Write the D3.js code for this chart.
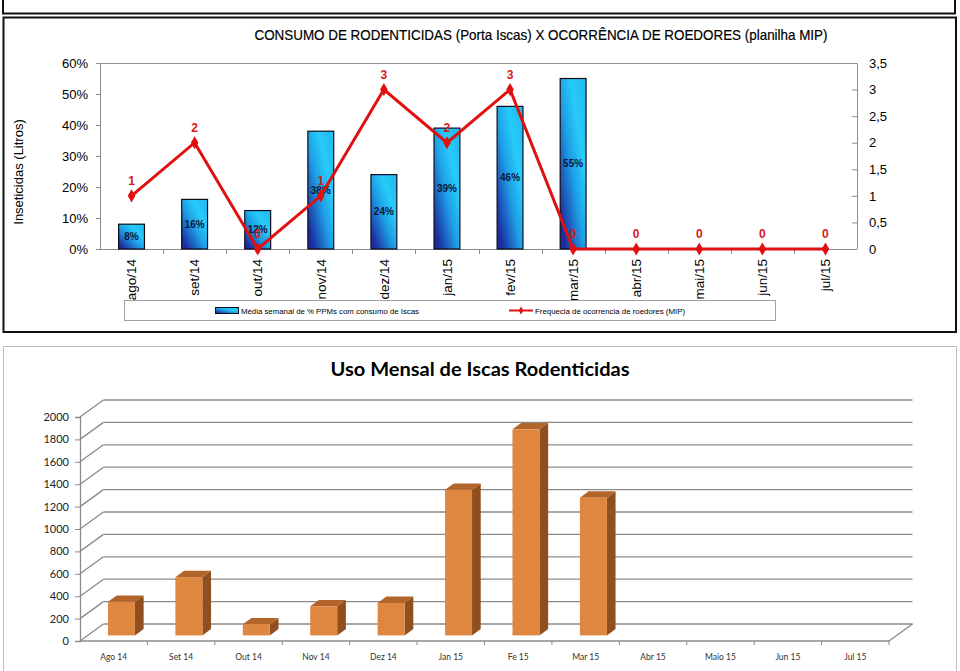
<!DOCTYPE html>
<html><head><meta charset="utf-8">
<script src="https://cdn.jsdelivr.net/npm/d3@7"></script>
<style>html,body{margin:0;padding:0;background:#fff;}svg{display:block;}</style>
</head><body>
<svg id="c" width="960" height="671"></svg>
<script>
// ---------- DATA ----------
const months1 = ["ago/14","set/14","out/14","nov/14","dez/14","jan/15","fev/15","mar/15","abr/15","mai/15","jun/15","jul/15"];
const pctPPM = [0.08,0.16,0.124,0.38,0.24,0.39,0.46,0.55,null,null,null,null];
const freqMIP = [1,2,0,1,3,2,3,0,0,0,0,0];
const leftTicks = [0,0.1,0.2,0.3,0.4,0.5,0.6];
const rightTicks = [0,0.5,1,1.5,2,2.5,3,3.5];
const title1 = "CONSUMO DE RODENTICIDAS (Porta Iscas) X OCORRÊNCIA DE ROEDORES (planilha MIP)";
const yTitle1 = "Inseticidas (Litros)";
const legend1 = ["Média semanal de % PPMs com consumo de Iscas","Frequecia de ocorrencia de roedores (MIP)"];

const months2 = ["Ago 14","Set 14","Out 14","Nov 14","Dez 14","Jan 15","Fe 15","Mar 15","Abr 15","Maio 15","Jun 15","Jul 15"];
const iscas = [300,520,100,260,290,1300,1840,1230,0,0,0,0];
const ticks2 = [0,200,400,600,800,1000,1200,1400,1600,1800,2000];
const title2 = "Uso Mensal de Iscas Rodenticidas";

// ---------- SETUP ----------
const svg = d3.select("#c");
svg.append("rect").attr("width",960).attr("height",671).attr("fill","#fff");
const defs = svg.append("defs");
const grad = defs.append("linearGradient").attr("id","barGrad")
  .attr("x1",0).attr("y1",0.8).attr("x2",0.8).attr("y2",0);
grad.append("stop").attr("offset","0%").attr("stop-color","#1c2c9e");
grad.append("stop").attr("offset","45%").attr("stop-color","#1e9fe6");
grad.append("stop").attr("offset","75%").attr("stop-color","#27cbf9");
grad.append("stop").attr("offset","100%").attr("stop-color","#22bdf2");

// panel frames
svg.append("rect").attr("x",3).attr("y",-6).attr("width",952).attr("height",19.5)
  .attr("fill","none").attr("stroke","#111").attr("stroke-width",2);
svg.append("rect").attr("x",3.5).attr("y",17.5).attr("width",952.5).attr("height",314.5)
  .attr("fill","#fff").attr("stroke","#111").attr("stroke-width",2);
svg.append("rect").attr("x",3.5).attr("y",346.5).attr("width",953).attr("height",330)
  .attr("fill","#fff").attr("stroke","#bcbcbc").attr("stroke-width",1);

// ---------- TOP CHART ----------
const L = 100, R = 857, T = 63, B = 249;
const x1 = d3.scaleBand().domain(months1).range([L,R]).paddingInner(0).paddingOuter(0);
const yL = d3.scaleLinear().domain([0,0.6]).range([B,T]);
const yR = d3.scaleLinear().domain([0,3.5]).range([B,T]);
const g1 = svg.append("g");

svg.append("text").attr("x",541).attr("y",40).attr("text-anchor","middle")
  .attr("font-family","'Liberation Sans Narrow','Arial Narrow','Liberation Sans',Arial,sans-serif")
  .attr("font-size",14.5).attr("fill","#000").attr("stroke","#000").attr("stroke-width",0.2)
  .attr("textLength",573).attr("lengthAdjust","spacingAndGlyphs").text(title1);

// plot frame top line
g1.append("line").attr("x1",L).attr("x2",R).attr("y1",T+0.5).attr("y2",T+0.5).attr("stroke","#8c8c8c");

// axes
const fmtPct = d3.format(".0%");
const fmtComma = d => String(d).replace(".",",");
const axL = g1.append("g").attr("transform",`translate(${L},0)`)
  .call(d3.axisLeft(yL).tickValues(leftTicks).tickFormat(fmtPct).tickSize(4).tickPadding(8));
const axR = g1.append("g").attr("transform",`translate(${R},0)`)
  .call(d3.axisRight(yR).tickValues(rightTicks).tickFormat(fmtComma).tickSizeInner(-5).tickSizeOuter(0).tickPadding(12));
[axL,axR].forEach(a=>{
  a.select(".domain").attr("stroke","#8c8c8c");
  a.selectAll(".tick line").attr("stroke","#8c8c8c");
  a.selectAll("text").attr("font-family","'Liberation Sans',Arial,sans-serif").attr("font-size",13).attr("fill","#000");
});
// x axis
g1.append("line").attr("x1",L).attr("x2",R).attr("y1",B+0.5).attr("y2",B+0.5).attr("stroke","#8c8c8c");
g1.selectAll(".xt").data(months1.slice(1)).enter().append("line")
  .attr("x1",d=>Math.round(x1(d))+0.5).attr("x2",d=>Math.round(x1(d))+0.5)
  .attr("y1",B).attr("y2",B+5).attr("stroke","#8c8c8c");

g1.selectAll(".xl").data(months1).enter().append("text")
  .attr("transform",d=>`translate(${x1(d)+x1.bandwidth()/2},259) rotate(-90)`)
  .attr("text-anchor","end").attr("dy","0.35em")
  .attr("font-family","'Liberation Sans',Arial,sans-serif").attr("font-size",13.5).attr("fill","#000")
  .text(d=>d);

// bars
const bw = x1.bandwidth()*0.41;
const barData = months1.map((m,i)=>({m,v:pctPPM[i]})).filter(d=>d.v!=null);
g1.selectAll(".bar").data(barData).enter().append("rect")
  .attr("x",d=>x1(d.m)+(x1.bandwidth()-bw)/2).attr("width",bw)
  .attr("y",d=>yL(d.v)).attr("height",d=>B-yL(d.v))
  .attr("fill","url(#barGrad)").attr("stroke","#0d0d1a").attr("stroke-width",1.2);
g1.selectAll(".bl").data(barData).enter().append("text")
  .attr("x",d=>x1(d.m)+x1.bandwidth()/2).attr("y",d=>(yL(d.v)+B)/2).attr("dy","0.35em")
  .attr("text-anchor","middle").attr("font-family","'Liberation Sans',Arial,sans-serif")
  .attr("font-weight","bold").attr("font-size",10).attr("fill","#0b1538")
  .text(d=>fmtPct(d.v));

// line
const cx = m => x1(m)+x1.bandwidth()/2;
const lineData = months1.map((m,i)=>({m,v:freqMIP[i]}));
g1.append("path").datum(lineData)
  .attr("d",d3.line().x(d=>cx(d.m)).y(d=>yR(d.v)))
  .attr("fill","none").attr("stroke","#e01010").attr("stroke-width",3).attr("stroke-linejoin","miter");
g1.selectAll(".mk").data(lineData).enter().append("path")
  .attr("transform",d=>`translate(${cx(d.m)},${yR(d.v)})`)
  .attr("d",d3.symbol().type(d3.symbolDiamond).size(50)).attr("fill","#e01010");
g1.selectAll(".ll").data(lineData).enter().append("text")
  .attr("x",d=>cx(d.m)).attr("y",d=>yR(d.v)-11)
  .attr("text-anchor","middle").attr("font-family","'Liberation Sans',Arial,sans-serif")
  .attr("font-weight","bold").attr("font-size",12).attr("fill","#d81818")
  .text(d=>d.v);

// y title
svg.append("text").attr("transform","translate(18,172) rotate(-90)").attr("text-anchor","middle")
  .attr("dy","0.35em").attr("font-family","'Liberation Sans',Arial,sans-serif").attr("font-size",13)
  .attr("fill","#000").text(yTitle1);

// legend
const lg = svg.append("g");
lg.append("rect").attr("x",124.5).attr("y",300.5).attr("width",651).attr("height",20)
  .attr("fill","#fff").attr("stroke","#a0a0a0");
lg.append("rect").attr("x",215.5).attr("y",307.5).attr("width",23).attr("height",6)
  .attr("fill","url(#barGrad)").attr("stroke","#0d0d1a");
lg.append("text").attr("x",241).attr("y",311).attr("dy","0.35em")
  .attr("font-family","'Liberation Sans',Arial,sans-serif").attr("font-size",8).attr("fill","#000")
  .attr("textLength",178).attr("lengthAdjust","spacingAndGlyphs").text(legend1[0]);
lg.append("line").attr("x1",509).attr("x2",533).attr("y1",310.5).attr("y2",310.5)
  .attr("stroke","#e01010").attr("stroke-width",2);
lg.append("path").attr("transform","translate(521,310.5)")
  .attr("d",d3.symbol().type(d3.symbolDiamond).size(18)).attr("fill","#e01010");
lg.append("text").attr("x",535).attr("y",311).attr("dy","0.35em")
  .attr("font-family","'Liberation Sans',Arial,sans-serif").attr("font-size",8).attr("fill","#000")
  .attr("textLength",150).attr("lengthAdjust","spacingAndGlyphs").text(legend1[1]);

// ---------- BOTTOM 3D CHART ----------
const g2 = svg.append("g");
const FL = 80, FR = 889, FB = 641, FT = 417;
const DX = 23.5, DY = -17;
const x2 = d3.scaleBand().domain(months2).range([FL,FR]);
const y2 = d3.scaleLinear().domain([0,2000]).range([FB,FT]);
const gridC = "#8a8a8a";

svg.append("text").attr("x",480).attr("y",376).attr("text-anchor","middle")
  .attr("font-family","Lato,'Open Sans',sans-serif").attr("font-weight","bold").attr("font-size",19)
  .attr("fill","#000").attr("textLength",299).attr("lengthAdjust","spacingAndGlyphs").text(title2);

// back-wall gridlines + side-wall diagonals
g2.selectAll(".gb").data(ticks2).enter().append("line")
  .attr("x1",FL+DX).attr("x2",FR+DX).attr("y1",d=>y2(d)+DY).attr("y2",d=>y2(d)+DY)
  .attr("stroke",gridC).attr("stroke-width",1.3);
g2.selectAll(".gd").data(ticks2).enter().append("line")
  .attr("x1",FL).attr("x2",FL+DX).attr("y1",d=>y2(d)).attr("y2",d=>y2(d)+DY)
  .attr("stroke",gridC).attr("stroke-width",1.3);
// floor front & right edge
g2.append("line").attr("x1",FL).attr("x2",FR).attr("y1",FB).attr("y2",FB).attr("stroke",gridC).attr("stroke-width",1.3);
g2.append("line").attr("x1",FR).attr("x2",FR+DX).attr("y1",FB).attr("y2",FB+DY).attr("stroke",gridC).attr("stroke-width",1.3);
// x ticks
g2.selectAll(".xt2").data(months2.slice(1).concat(["__end"])).enter().append("line")
  .attr("x1",d=>d==="__end"?FR:x2(d)).attr("x2",d=>d==="__end"?FR:x2(d))
  .attr("y1",FB).attr("y2",FB+4).attr("stroke",gridC);
// y axis
const ax2 = g2.append("g").attr("transform",`translate(${FL},0)`)
  .call(d3.axisLeft(y2).tickValues(ticks2).tickFormat(d3.format("d")).tickSize(5).tickPadding(6));
ax2.select(".domain").attr("stroke",gridC).attr("stroke-width",1.3);
ax2.selectAll(".tick line").attr("stroke",gridC);
ax2.selectAll("text").attr("font-family","Lato,'Open Sans',sans-serif").attr("font-size",11).attr("fill","#222");

// x labels
g2.selectAll(".xl2").data(months2).enter().append("text")
  .attr("x",d=>x2(d)+x2.bandwidth()/2).attr("y",657).attr("dy","0.35em").attr("text-anchor","middle")
  .attr("font-family","Lato,'Open Sans',sans-serif").attr("font-size",8.5)
  .attr("fill","#333").text(d=>d);

// 3D bars
const f0 = 0.33, fd = 0.37;
const bw2 = x2.bandwidth()*0.4;
const bars2 = months2.map((m,i)=>({m,v:iscas[i]})).filter(d=>d.v>0);
const ox = DX*f0, oy = DY*f0, ddx = DX*fd, ddy = DY*fd;
const bg = g2.selectAll(".b3").data(bars2).enter().append("g");
bg.each(function(d){
  const g = d3.select(this);
  const xl = x2(d.m)+(x2.bandwidth()-bw2)/2 + ox;
  const xr = xl + bw2;
  const yb = y2(0)+oy, yt = y2(d.v)+oy;
  g.append("path").attr("d",`M${xr},${yb}L${xr+ddx},${yb+ddy}L${xr+ddx},${yt+ddy}L${xr},${yt}Z`)
    .attr("fill","#8f4f1f");
  g.append("path").attr("d",`M${xl},${yt}L${xl+ddx},${yt+ddy}L${xr+ddx},${yt+ddy}L${xr},${yt}Z`)
    .attr("fill","#b3642b");
  g.append("rect").attr("x",xl).attr("y",yt).attr("width",bw2).attr("height",yb-yt).attr("fill","#df863f");
});
</script>
</body></html>
